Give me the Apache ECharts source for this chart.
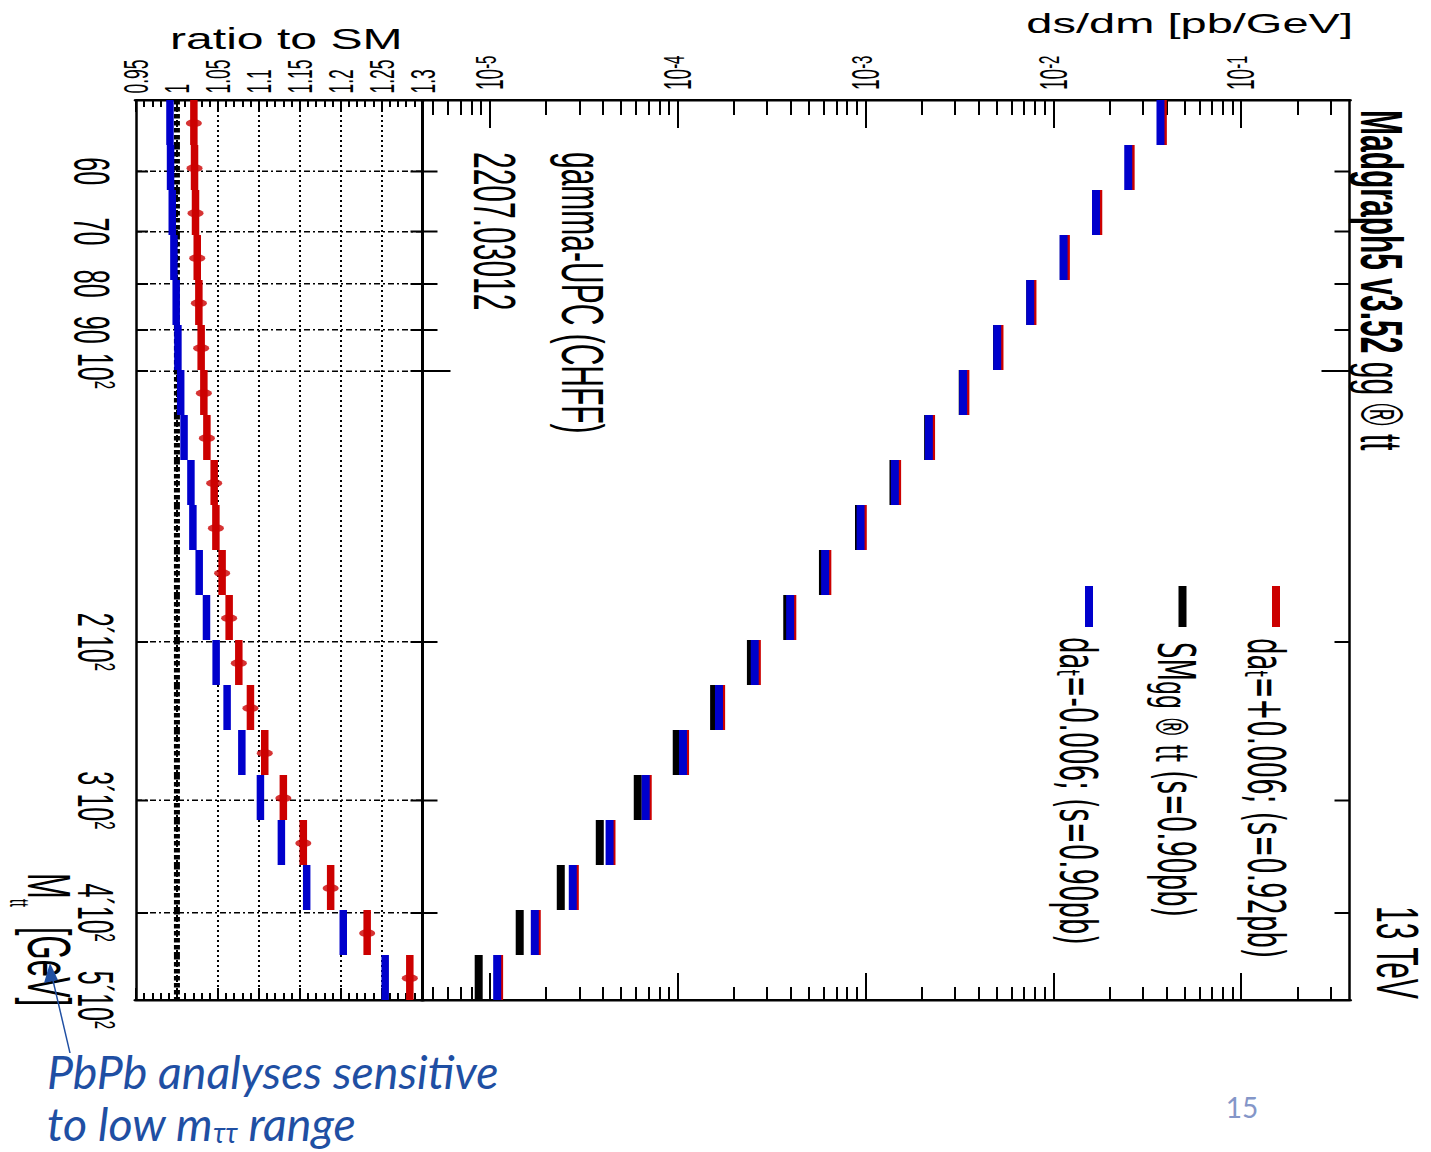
<!DOCTYPE html>
<html>
<head>
<meta charset="utf-8">
<script src="https://cdn.jsdelivr.net/npm/echarts@6/dist/echarts.min.js"></script>
<style>
  html, body { margin: 0; padding: 0; background: #fff; overflow: hidden; }
  #wrap { position: relative; width: 1431px; height: 1152px; overflow: hidden; }
  /* the plot is laid out on a tall canvas and squashed vertically by S */
  #chart { position: absolute; left: 0; top: 0; width: 1431px; height: 2304px;
           transform: scaleY(0.5); transform-origin: 0 0; }
</style>
</head>
<body>
<div id="wrap"><div id="chart"></div></div>
<script>
// ---- data -------------------------------------------------------------
// M_tt bin edges [GeV]
const binEdges = [50, 56.10, 62.95, 70.63, 79.24, 88.91, 99.76, 111.94, 125.59, 140.92,
                  158.11, 177.41, 199.05, 223.34, 250.59, 281.17, 315.48, 353.97, 397.16, 445.63, 500];
// SM gg -> tt differential cross section [pb/GeV]
const smXsec = [0.0375, 0.02525, 0.01696, 0.01138, 0.00754, 0.00502, 0.003295, 0.002156, 0.00141, 0.000924,
                0.000594, 0.0003836, 0.0002457, 0.0001565, 0.000099, 0.0000614, 0.00003855, 0.0000239, 0.00001445, 0.00000874];
// ratio to SM, d alpha_t = +0.006
const posRatio = [1.0207, 1.0215, 1.0227, 1.0248, 1.0268, 1.0296, 1.0329, 1.0366, 1.0455, 1.0476,
                  1.0552, 1.0638, 1.0756, 1.0898, 1.1073, 1.1300, 1.1544, 1.1878, 1.2324, 1.2845];
// ratio to SM, d alpha_t = -0.006
const negRatio = [0.9915, 0.9922, 0.9943, 0.9963, 0.9991, 1.0012, 1.0046, 1.0087, 1.0171, 1.0195,
                  1.0272, 1.0361, 1.0479, 1.0613, 1.0793, 1.1020, 1.1276, 1.1585, 1.2032, 1.2544];

const xsecTickValues = [1e-5, 1e-4, 1e-3, 1e-2, 1e-1];
const xsecTickLabels = ['10^-5', '10^-4', '10^-3', '10^-2', '10^-1'];
const massTickValues = [60, 70, 80, 90, 100, 200, 300, 400, 500];
const massTickLabels = ['60', '70', '80', '90', '10^2', '2\u00b410^2', '3\u00b410^2', '4\u00b410^2', '5\u00b410^2'];
const legendLabels = ['+0.006', 'SM', '-0.006'];

// ---- layout helpers ---------------------------------------------------
const S = 0.5;                 // vertical squash of the canvas
const Y = v => v / S;          // page pixels (vertical) -> chart units
const FONT = "'Liberation Sans', Arial, Helvetica, sans-serif";
const LEG_FONT = "'DejaVu Sans', 'Liberation Sans', sans-serif";
const SLIDE_FONT = "Lato, 'Open Sans', sans-serif";
const RED = '#cc0000', BLUE = '#0000cc', BLACK = '#000000', NOTE = '#1f4fa3';
const ROT = -Math.PI / 2;      // text running top to bottom

const posXsec = smXsec.map((v, i) => v * posRatio[i]);
const negXsec = smXsec.map((v, i) => v * negRatio[i]);
const smRatio = smXsec.map(v => v / v);
const binCenters = smXsec.map((_, i) => (binEdges[i] + binEdges[i + 1]) / 2);
const segments = vals => vals.map((v, i) => [v, binEdges[i], binEdges[i + 1]]);

function nearestIndex(list, v) {
  let best = 0, d = Infinity;
  list.forEach((t, i) => { const dd = Math.abs(Math.log(v / t)); if (dd < d) { d = dd; best = i; } });
  return best;
}

// minor ticks of the cross-section axis: 2..9 x 10^n
const xsecMinor = [];
for (let e = -6; e <= -1; e++) for (let m = 2; m <= 9; m++) {
  const v = m * Math.pow(10, e);
  if (v > 4.39e-6 && v < 0.377) xsecMinor.push(+v.toPrecision(3));
}
const massMajor = [100];
const massMinor = [60, 70, 80, 90, 200, 300, 400];

// histogram drawn as thick segments, one per bin
function histSeries(name, data, xi, yi, color, width, z) {
  return {
    type: 'custom', name, xAxisIndex: xi, yAxisIndex: yi, z, silent: true,
    data, encode: { x: 0, y: [1, 2] },
    renderItem(params, api) {
      const a = api.coord([api.value(0), api.value(1)]);
      const b = api.coord([api.value(0), api.value(2)]);
      return { type: 'rect', shape: { x: a[0] - width / 2, y: a[1], width, height: b[1] - a[1] },
               style: { fill: color } };
    }
  };
}

const frame = w => ({ show: true, onZero: false, lineStyle: { color: BLACK, width: w } });

const xAxes = [
  { // 0: ratio, top
    gridIndex: 0, type: 'value', position: 'top', min: 0.95, max: 1.3, interval: 0.05,
    axisLine: frame(Y(2.5)),
    axisTick: { show: true, inside: true, length: Y(12), lineStyle: { color: BLACK, width: 2 } },
    minorTick: { show: true, splitNumber: 5, length: Y(7), lineStyle: { color: BLACK, width: 2 } },
    splitLine: { show: true, showMinLine: false, showMaxLine: false,
                 lineStyle: { color: BLACK, width: 2, type: [Y(2), Y(3)] } },
    axisLabel: { show: true, rotate: -90, margin: Y(6.5), fontSize: 35, fontFamily: FONT, color: BLACK,
                 formatter: v => String(+v.toFixed(2)) }
  },
  { // 1: ratio, bottom
    gridIndex: 0, type: 'value', position: 'bottom', min: 0.95, max: 1.3, interval: 0.05,
    axisLine: frame(Y(2.7)),
    axisTick: { show: true, inside: true, length: Y(12), lineStyle: { color: BLACK, width: 2 } },
    minorTick: { show: true, splitNumber: 5, length: Y(7), lineStyle: { color: BLACK, width: 2 } },
    splitLine: { show: false }, axisLabel: { show: false }
  },
  { // 2: cross section, top, decades with labels
    gridIndex: 1, type: 'log', logBase: 10, position: 'top', min: 4.39e-6, max: 0.377,
    axisLine: frame(Y(2.5)),
    axisTick: { show: true, inside: true, length: Y(28), customValues: xsecTickValues,
                lineStyle: { color: BLACK, width: 2 } },
    minorTick: { show: false }, splitLine: { show: false },
    axisLabel: {
      show: true, rotate: -90, margin: Y(10), customValues: xsecTickValues, color: BLACK, fontFamily: FONT,
      formatter: v => {
        const [b, e] = xsecTickLabels[nearestIndex(xsecTickValues, v)].split('^');
        return '{b|' + b + '}{e|' + e + '}';
      },
      rich: {
        b: { fontSize: 38, lineHeight: 38, verticalAlign: 'bottom', fontFamily: FONT, color: BLACK },
        e: { fontSize: 30, lineHeight: 30, verticalAlign: 'top', padding: [0, 0, 25, 0], fontFamily: FONT, color: BLACK }
      }
    }
  },
  { // 3: cross section, top, minor ticks
    gridIndex: 1, type: 'log', logBase: 10, position: 'top', min: 4.39e-6, max: 0.377,
    axisLine: { show: false },
    axisTick: { show: true, inside: true, length: Y(15), customValues: xsecMinor,
                lineStyle: { color: BLACK, width: 2 } },
    axisLabel: { show: false }, splitLine: { show: false }
  },
  { // 4: cross section, bottom, decades
    gridIndex: 1, type: 'log', logBase: 10, position: 'bottom', min: 4.39e-6, max: 0.377,
    axisLine: frame(Y(2.7)),
    axisTick: { show: true, inside: true, length: Y(27), customValues: xsecTickValues,
                lineStyle: { color: BLACK, width: 2 } },
    axisLabel: { show: false }, splitLine: { show: false }
  },
  { // 5: cross section, bottom, minor ticks
    gridIndex: 1, type: 'log', logBase: 10, position: 'bottom', min: 4.39e-6, max: 0.377,
    axisLine: { show: false },
    axisTick: { show: true, inside: true, length: Y(13), customValues: xsecMinor,
                lineStyle: { color: BLACK, width: 2 } },
    axisLabel: { show: false }, splitLine: { show: false }
  }
];

const massAxis = (grid, pos, ticks, len, labels, line) => ({
  gridIndex: grid, type: 'log', logBase: 10, min: 50, max: 500, inverse: true, position: pos,
  axisLine: line ? frame(line) : { show: false },
  axisTick: { show: true, inside: true, length: len, customValues: ticks,
              lineStyle: { color: BLACK, width: Y(2) } },
  splitLine: { show: false }, minorTick: { show: false },
  axisLabel: labels || { show: false }
});

const massLabels = {
  show: true, rotate: -90, margin: 15.5, customValues: massTickValues, color: BLACK, fontFamily: FONT,
  formatter: v => {
    const parts = massTickLabels[nearestIndex(massTickValues, v)].split('^');
    return parts.length > 1 ? '{n|' + parts[0] + '}{s|' + parts[1] + '}' : '{p|' + parts[0] + '}';
  },
  rich: {
    n: { fontSize: 50, lineHeight: 50, verticalAlign: 'bottom', fontFamily: FONT, color: BLACK },
    p: { fontSize: 50, lineHeight: 50, padding: [8.5, 0, 0, 0], fontFamily: FONT, color: BLACK },
    s: { fontSize: 30, lineHeight: 30, verticalAlign: 'top', padding: [0, 0, 28.5, 0], fontFamily: FONT, color: BLACK }
  }
};

const yAxes = [
  massAxis(0, 'left', massTickValues.slice(0, 8), 12, massLabels, 2.5),   // 0 ratio left
  massAxis(0, 'right', massTickValues.slice(0, 8), 12, null, 3),          // 1 ratio right
  massAxis(1, 'left', massMajor, 28, null, 3),                             // 2 main left, 10^2
  massAxis(1, 'left', massMinor, 15, null, null),                          // 3 main left, others
  massAxis(1, 'right', massMajor, 28, null, 2.5),                          // 4 main right
  massAxis(1, 'right', massMinor, 15, null, null)                          // 5 main right, others
];

const series = [
  // upper panel: SM, +0.006, -0.006
  histSeries('SM', segments(smXsec), 2, 2, BLACK, 8, 2),
  histSeries('+0.006', segments(posXsec), 2, 2, RED, 8, 3),
  histSeries('-0.006', segments(negXsec), 2, 2, BLUE, 8, 4),
  // ratio panel
  {
    type: 'custom', name: 'SM ratio', xAxisIndex: 0, yAxisIndex: 0, z: 3, silent: true,
    data: segments(smRatio), encode: { x: 0, y: [1, 2] },
    renderItem(params, api) {
      const a = api.coord([api.value(0), api.value(1)]);
      const b = api.coord([api.value(0), api.value(2)]);
      return { type: 'line', shape: { x1: a[0], y1: a[1], x2: b[0], y2: b[1] },
               style: { stroke: BLACK, lineWidth: 6, lineDash: [Y(4.5), Y(2.5)] } };
    }
  },
  histSeries('-0.006 ratio', segments(negRatio), 0, 0, BLUE, 7.5, 3),
  histSeries('+0.006 ratio', segments(posRatio), 0, 0, RED, 7.5, 3),
  {
    type: 'scatter', name: '+0.006 points', xAxisIndex: 0, yAxisIndex: 0, z: 5, silent: true,
    data: posRatio.map((r, i) => [r, binCenters[i]]),
    symbol: 'circle', symbolSize: 16, itemStyle: { color: RED },
    markLine: {
      silent: true, symbol: 'none', z: 1, animation: false, label: { show: false },
      lineStyle: { color: BLACK, width: Y(1.3), type: [6, 3, 2, 3] },
      data: massTickValues.slice(0, 8).map(v => ({ yAxis: v }))
    }
  }
];

// ---- texts drawn on the plot ----------------------------------------
// rotated text: x is the glyph centre line, y the page-pixel start of the text
const txt = (x, y, text, size, style) => ({
  type: 'text', x, y: Y(y), rotation: ROT, silent: true, z: 10,
  style: Object.assign({ text, fontSize: size, fontFamily: FONT, fill: BLACK, align: 'left', verticalAlign: 'middle' }, style)
});

const legendRich = {
  m: { fontSize: 52, lineHeight: 52, verticalAlign: 'top', fontFamily: LEG_FONT },
  t: { fontSize: 32, lineHeight: 32, verticalAlign: 'bottom', padding: [35, 0, 0, 0], fontFamily: LEG_FONT },
  g: { fontSize: 44, lineHeight: 44, verticalAlign: 'bottom', padding: [18, 0, 0, 0], fontFamily: LEG_FONT }
};

const graphics = [
  // axis titles
  { type: 'text', x: 170, y: Y(38.5), scaleX: 0.83, silent: true, z: 10,
    style: { text: 'ratio to SM', fontSize: 58, fontFamily: FONT, fill: BLACK, align: 'left', verticalAlign: 'middle' } },
  { type: 'text', x: 1353, y: Y(23), scaleX: 0.84, silent: true, z: 10,
    style: { text: 'ds/dm [pb/GeV]', fontSize: 56, fontFamily: FONT, fill: BLACK, align: 'right', verticalAlign: 'middle' } },
  txt(50, 873, 'M', 62),
  txt(19, 899, 'tt', 28),
  txt(50, 927, '[GeV]', 62),
  // generator / energy / reference
  txt(1381.5, 110, '{b|Madgraph5 v3.52}{n| gg \u00ae tt}', 60, { rich: {
    b: { fontSize: 60, fontWeight: 'bold', fontFamily: FONT },
    n: { fontSize: 60, fontFamily: FONT }
  } }),
  txt(1397.5, 906, '13 TeV', 60),
  txt(582.5, 152, 'gamma-UPC (CHFF)', 60),
  txt(494.5, 152, '2207.03012', 60),
  // legend
  { type: 'rect', shape: { x: 1272, y: Y(586), width: 8, height: Y(41) }, style: { fill: RED }, silent: true, z: 10 },
  { type: 'rect', shape: { x: 1178.5, y: Y(586), width: 8, height: Y(41) }, style: { fill: BLACK }, silent: true, z: 10 },
  { type: 'rect', shape: { x: 1085, y: Y(586), width: 8, height: Y(41) }, style: { fill: BLUE }, silent: true, z: 10 },
  txt(1265.5, 638, '{m|da}{t|t}{m|=' + legendLabels[0] + '; (s=0.92pb)}', 52, { rich: legendRich }),
  txt(1175.5, 642, '{m|' + legendLabels[1] + '}{g|gg \u00ae tt}{m| (s=0.90pb)}', 52, { rich: legendRich }),
  txt(1077.5, 637, '{m|da}{t|t}{m|=' + legendLabels[2] + '; (s=0.90pb)}', 52, { rich: legendRich }),
  // slide annotation
  { type: 'line', shape: { x1: 70, y1: Y(1053), x2: 51, y2: Y(972) }, style: { stroke: NOTE, lineWidth: 1.5 }, silent: true, z: 11 },
  { type: 'polygon', shape: { points: [[50, Y(963)], [44, Y(983)], [58, Y(980)]] }, style: { fill: NOTE }, silent: true, z: 11 },
  { type: 'text', x: 47, y: Y(1071), scaleY: 1 / S, silent: true, z: 11,
    style: { text: 'PbPb analyses sensitive', fontSize: 46.5, fontStyle: 'italic', fontFamily: SLIDE_FONT,
             fill: NOTE, align: 'left', verticalAlign: 'middle' } },
  { type: 'text', x: 47, y: Y(1123), scaleY: 1 / S, silent: true, z: 11,
    style: { text: '{a|to low m}{b|\u03c4\u03c4}{a| range}', fill: NOTE, align: 'left', verticalAlign: 'middle',
             rich: {
               a: { fontSize: 46.5, lineHeight: 46, fontStyle: 'italic', fontFamily: SLIDE_FONT },
               b: { fontSize: 28, lineHeight: 28, verticalAlign: 'bottom', fontStyle: 'italic', fontFamily: SLIDE_FONT }
             } } },
  { type: 'text', x: 1242, y: Y(1107), scaleY: 1 / S, silent: true, z: 11,
    style: { text: '15', fontSize: 28, fontFamily: SLIDE_FONT, fill: '#8496c8', align: 'center', verticalAlign: 'middle' } }
];

const chart = echarts.init(document.getElementById('chart'), null, { renderer: 'svg' });
chart.setOption({
  animation: false,
  backgroundColor: '#ffffff',
  grid: [
    { left: 136, top: Y(100), width: 286.5, height: Y(900), containLabel: false, outerBoundsMode: 'none' },
    { left: 422.5, top: Y(100), width: 927, height: Y(900), containLabel: false, outerBoundsMode: 'none' }
  ],
  xAxis: xAxes,
  yAxis: yAxes,
  series,
  graphic: graphics
});
</script>
</body>
</html>
